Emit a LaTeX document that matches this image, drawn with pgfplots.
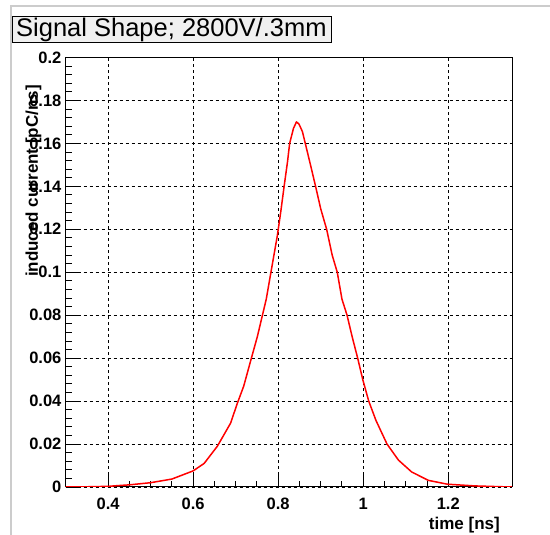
\documentclass[border=0pt]{standalone}
\usepackage{fontspec}
\setmainfont{Liberation Sans}
\usepackage{pgfplots}
\pgfplotsset{compat=1.18}
\begin{document}
\begin{tikzpicture}[x=1pt,y=1pt]
\fill[white] (0,0) rectangle (550,535);
\path[use as bounding box] (0,0) rectangle (550,535);
\draw[line width=2pt, black!20] (11,0) -- (11,529) -- (550,529);
\begin{axis}[
  at={(65.6pt,48pt)}, anchor=south west,
  scale only axis, width=446.4pt, height=429.5pt,
  xmin=0.3, xmax=1.35, ymin=0, ymax=0.2,
  xtick={0.4,0.6,0.8,1.0,1.2},
  xticklabels={0.4,0.6,0.8,1,1.2},
  ytick={0,0.02,0.04,0.06,0.08,0.1,0.12,0.14,0.16,0.18,0.2},
  yticklabels={0,0.02,0.04,0.06,0.08,0.1,0.12,0.14,0.16,0.18,0.2},
  minor x tick num=3, minor y tick num=4,
  tick align=inside, tick pos=left,
  major tick length=12pt, minor tick length=6pt,
  every tick/.style={black, line width=0.9pt},
  axis line style={black, line width=1pt},
  grid=major,
  major grid style={black, line width=0.8pt, dash pattern=on 3pt off 3pt},
  scaled ticks=false,
  /pgf/number format/assume math mode=true,
  ticklabel style={font=\fontsize{16.5pt}{19pt}\selectfont\bfseries, inner sep=0pt},
  yticklabel style={anchor=east, xshift=-4pt},
  xticklabel style={anchor=north, yshift=-11pt},
  xlabel={time [ns]},
  ylabel={induced current [pC/ns]},
  xlabel style={at={(axis description cs:1,0)}, anchor=base east, xshift=-12pt, yshift=-43pt, font=\fontsize{17pt}{20pt}\selectfont\bfseries, inner sep=0pt},
  ylabel style={at={(axis description cs:-0.072,0.936)}, rotate=0, anchor=east, font=\fontsize{17pt}{20pt}\selectfont\bfseries, inner sep=0pt},
]
\addplot[color=red, line width=1.5pt, no marks, line join=round] coordinates {
(0.30,0) (0.35,0.0001) (0.40,0.0003) (0.42,0.0006) (0.45,0.0010)
(0.50,0.0020) (0.55,0.0037) (0.60,0.0075) (0.626,0.011) (0.657,0.019)
(0.688,0.0297) (0.704,0.039) (0.719,0.047) (0.737,0.060) (0.751,0.070)
(0.763,0.080) (0.772,0.0875) (0.783,0.100) (0.798,0.117) (0.806,0.128)
(0.814,0.140) (0.822,0.1515) (0.827,0.160) (0.836,0.167) (0.843,0.170)
(0.849,0.169) (0.857,0.1655) (0.865,0.159) (0.876,0.150) (0.888,0.140)
(0.900,0.1296) (0.914,0.120) (0.927,0.108) (0.939,0.100) (0.950,0.0875)
(0.962,0.080) (0.974,0.070) (0.987,0.060) (0.999,0.050) (1.013,0.040)
(1.030,0.031) (1.056,0.020) (1.083,0.0125) (1.114,0.007) (1.153,0.0031)
(1.198,0.0013) (1.263,0.0005) (1.33,0.0001) (1.35,0)
};
\end{axis}
\draw[black, line width=1pt, fill=black!6] (12,492) rectangle (331,518);
\node[anchor=west, inner sep=0pt, font=\fontsize{25.5pt}{28pt}\selectfont] at (16,505) {Signal Shape; 2800V/.3mm};
\end{tikzpicture}
\end{document}
